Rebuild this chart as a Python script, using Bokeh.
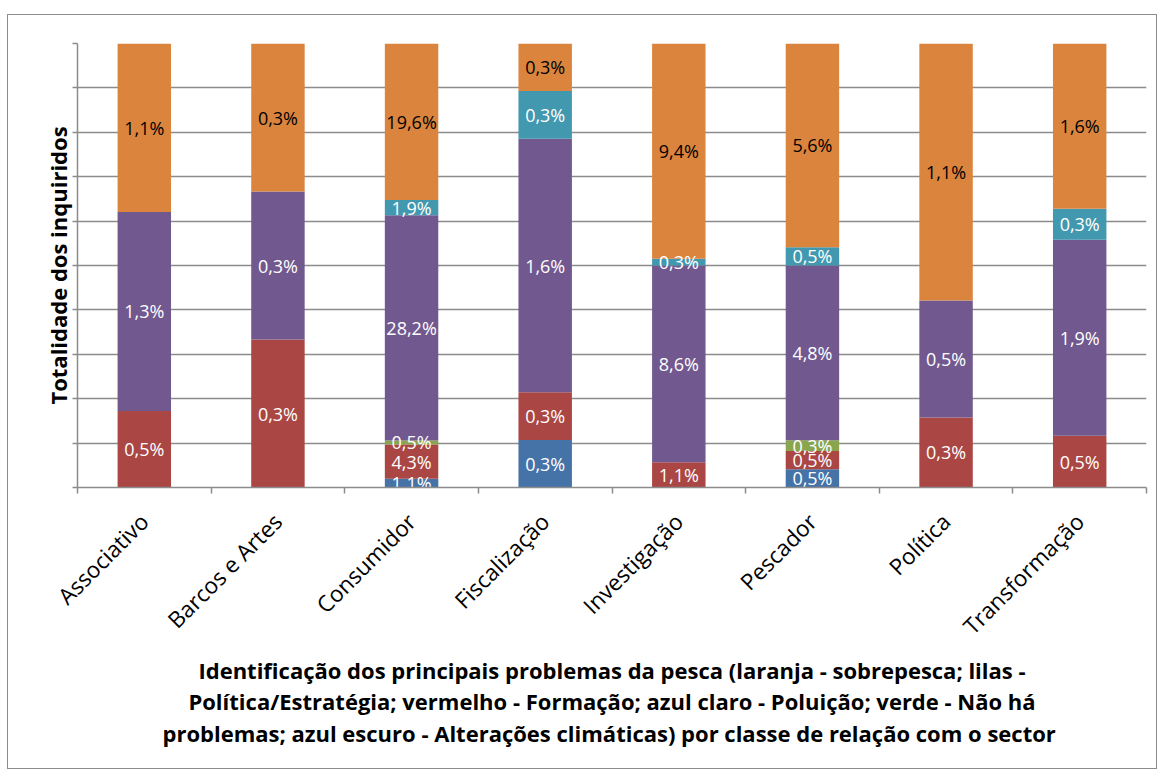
import math
from bokeh.plotting import figure
from bokeh.models import ColumnDataSource, FixedTicker, Range1d
from bokeh.core.properties import value
from bokeh.embed import file_html
from bokeh.resources import INLINE

categories = ["Associativo", "Barcos e Artes", "Consumidor", "Fiscalização",
              "Investigação", "Pescador", "Política", "Transformação"]

# percentages of all respondents (labels shown in the bars), bottom to top
alteracoes_climaticas = [0, 0, 1.1, 0.3, 0, 0.5, 0, 0]       # azul escuro
formacao = [0.5, 0.3, 4.3, 0.3, 1.1, 0.5, 0.3, 0.5]           # vermelho
nao_ha_problemas = [0, 0, 0.5, 0, 0, 0.3, 0, 0]               # verde
politica_estrategia = [1.3, 0.3, 28.2, 1.6, 8.6, 4.8, 0.5, 1.9]  # lilas
poluicao = [0, 0, 1.9, 0.3, 0.3, 0.5, 0, 0.3]                 # azul claro
sobrepesca = [1.1, 0.3, 19.6, 0.3, 9.4, 5.6, 1.1, 1.6]        # laranja

grid_ticks = [i / 10 for i in range(11)]

series = [alteracoes_climaticas, formacao, nao_ha_problemas,
          politica_estrategia, poluicao, sobrepesca]
colors = ["#4572A7", "#AA4643", "#89A54E", "#71588F", "#4198AF", "#DB843D"]
label_colors = ["white", "white", "white", "white", "white", "black"]

n = len(categories)
xs = [i + 0.5 for i in range(n)]
totals = [sum(s[i] for s in series) for i in range(n)]

p = figure(width=1150, height=755, output_backend="svg", toolbar_location=None,
           x_range=Range1d(0, n), y_range=Range1d(0, 1),
           min_border_left=69, min_border_right=12, min_border_top=28,
           min_border_bottom=283, outline_line_color=None,
           background_fill_color="white", border_fill_color="white")
p.styles = {"border": "1px solid #8c8c8c", "margin-top": "14px", "margin-left": "7px"}

cum = [0.0] * n
lx, ly, lt, lc = [], [], [], []
for s, col, lcol in zip(series, colors, label_colors):
    bottoms = list(cum)
    tops = [cum[i] + s[i] / totals[i] for i in range(n)]
    src = ColumnDataSource(dict(x=xs, bottom=bottoms, top=tops))
    p.vbar(x="x", bottom="bottom", top="top", width=0.4, source=src,
           fill_color=col, line_color=None)
    for i in range(n):
        if s[i] > 0:
            lx.append(xs[i])
            ly.append((bottoms[i] + tops[i]) / 2)
            lt.append(f"{s[i]:.1f}%".replace(".", ","))
            lc.append(lcol)
    cum = tops

lsrc = ColumnDataSource(dict(x=lx, y=ly, t=lt, c=lc))
p.text(x="x", y="y", text="t", text_color="c", source=lsrc,
       text_align="center", text_baseline="middle",
       text_font=value("Open Sans"), text_font_size="18px")

grid_col = "#8c8c8c"
# y axis: tick marks only (as minor ticks), no tick labels
p.yaxis.ticker = FixedTicker(ticks=[], minor_ticks=grid_ticks)
p.yaxis.major_tick_out = 0
p.yaxis.major_tick_in = 0
p.yaxis.minor_tick_out = 5
p.yaxis.minor_tick_in = 0
p.yaxis.minor_tick_line_color = grid_col
p.yaxis.minor_tick_line_width = 1.5
p.yaxis.axis_line_color = grid_col
p.yaxis.axis_line_width = 1.5
p.yaxis.axis_label = "Totalidade dos inquiridos"
p.yaxis.axis_label_text_font = "Open Sans"
p.yaxis.axis_label_text_font_style = "bold"
p.yaxis.axis_label_text_font_size = "22px"
p.yaxis.axis_label_text_color = "black"
p.yaxis.axis_label_standoff = 0
p.ygrid.ticker = FixedTicker(ticks=grid_ticks)
p.ygrid.grid_line_color = grid_col
p.ygrid.grid_line_width = 1.5

# x axis
p.xaxis.ticker = FixedTicker(ticks=xs, minor_ticks=list(range(n + 1)))
p.xaxis.major_label_overrides = {x: c for x, c in zip(xs, categories)}
p.xaxis.major_label_orientation = math.pi / 4
p.xaxis.major_label_text_font = "Open Sans"
p.xaxis.major_label_text_font_size = "22.5px"
p.xaxis.major_label_text_color = "black"
p.xaxis.major_label_standoff = 24
p.xaxis.major_tick_out = 0
p.xaxis.major_tick_in = 0
p.xaxis.minor_tick_out = 6
p.xaxis.minor_tick_in = 0
p.xaxis.minor_tick_line_color = grid_col
p.xaxis.minor_tick_line_width = 1.5
p.xaxis.axis_line_color = grid_col
p.xaxis.axis_line_width = 1.5
p.xaxis.axis_label = ("Identificação dos principais problemas da pesca (laranja - sobrepesca; lilas -\n"
                      "Política/Estratégia; vermelho - Formação; azul claro - Poluição; verde - Não há\n"
                      "problemas; azul escuro - Alterações climáticas)  por classe de relação com o sector")
p.xaxis.axis_label_text_font = "Open Sans"
p.xaxis.axis_label_text_font_style = "bold"
p.xaxis.axis_label_text_font_size = "22px"
p.xaxis.axis_label_text_color = "black"
p.xaxis.axis_label_text_line_height = 1.05
p.xaxis.axis_label_standoff = 0
p.xaxis.axis_label_text_align = "center"
p.xgrid.grid_line_color = None

open("out.html", "w").write(file_html(p, INLINE))
